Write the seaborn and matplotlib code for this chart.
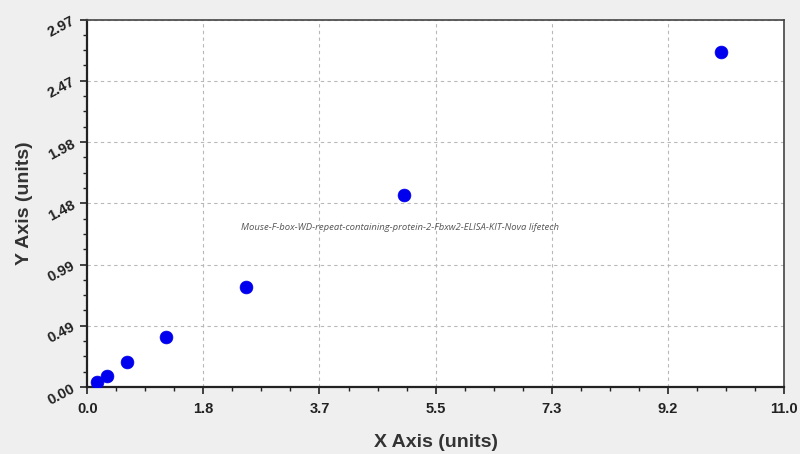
import matplotlib
matplotlib.use('Agg')
import matplotlib.pyplot as plt
import seaborn as sns
import pandas as pd
from matplotlib.ticker import FixedLocator, AutoMinorLocator

# standard curve points
conc = [0.156, 0.312, 0.625, 1.25, 2.5, 5.0, 10.0]
od = [0.04, 0.09, 0.20, 0.40, 0.81, 1.55, 2.71]

x_ticks = [0.0, 11 / 6, 22 / 6, 33 / 6, 44 / 6, 55 / 6, 11.0]
x_labels = ['0.0', '1.8', '3.7', '5.5', '7.3', '9.2', '11.0']
y_ticks = [0.0, 0.495, 0.99, 1.485, 1.98, 2.475, 2.97]
y_labels = ['0.00', '0.49', '0.99', '1.48', '1.98', '2.47', '2.97']

note = 'Mouse-F-box-WD-repeat-containing-protein-2-Fbxw2-ELISA-KIT-Nova lifetech'

df = pd.DataFrame({'x': conc, 'y': od})

sns.set_style('white')
plt.rcParams['font.family'] = ['Liberation Sans', 'DejaVu Sans']

fig = plt.figure(figsize=(8, 4.54), dpi=100, facecolor='#efefef')
ax = fig.add_axes([0.109, 0.1476, 0.871, 0.8094])
ax.set_facecolor('white')

sns.scatterplot(data=df, x='x', y='y', ax=ax, color='#0000ee', s=85,
                edgecolor='#0000ee', linewidth=0.5, zorder=3)

ax.set_xlim(0, 11)
ax.set_ylim(0, 2.97)
ax.xaxis.set_major_locator(FixedLocator(x_ticks))
ax.yaxis.set_major_locator(FixedLocator(y_ticks))
ax.set_xticklabels(x_labels, fontsize=10.5, fontweight='bold', color='#222222')
ax.set_yticklabels(y_labels, fontsize=10.5, fontweight='bold', color='#222222',
                   rotation=28)
ax.xaxis.set_minor_locator(AutoMinorLocator(4))
ax.yaxis.set_minor_locator(AutoMinorLocator(4))
ax.tick_params(which='major', direction='out', length=5, width=1.2, color='#222222')
ax.tick_params(which='minor', direction='out', length=3, width=1, color='#222222')
ax.tick_params(axis='x', which='both', bottom=True, pad=6)
ax.tick_params(axis='y', which='both', left=True, pad=2)

ax.grid(True, which='major', linestyle=(0, (3, 3)), color='#b8b8b8', linewidth=0.8)

for side in ['left', 'bottom']:
    ax.spines[side].set_color('#222222')
    ax.spines[side].set_linewidth(1.6)
for side in ['top', 'right']:
    ax.spines[side].set_color('#444444')
    ax.spines[side].set_linewidth(1.2)

ax.set_xlabel('X Axis (units)', fontsize=14, fontweight='bold', color='#333333', labelpad=13)
ax.set_ylabel('Y Axis (units)', fontsize=14, fontweight='bold', color='#333333', labelpad=9)

ax.text(4.94, 1.29, note, fontsize=6.8, style='italic', color='#555555',
        ha='center', va='center', family=['Open Sans', 'DejaVu Sans'])

fig.savefig('out.png', dpi=100, facecolor=fig.get_facecolor())
